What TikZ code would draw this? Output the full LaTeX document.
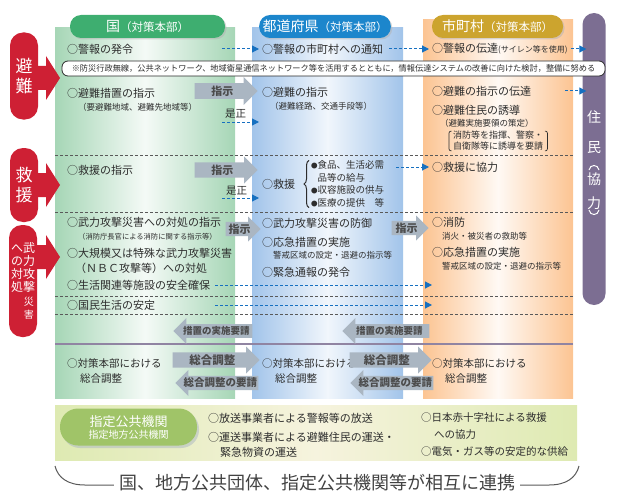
\documentclass[tikz,border=0pt]{standalone}
\usepackage{fontspec}
\setmainfont{Noto Sans CJK JP}
\usepackage{tikz}
\usetikzlibrary{shapes, arrows, arrows.meta, positioning, shapes.arrows, shadows, decorations.pathreplacing, calc}

\definecolor{kuniG}{RGB}{166,214,182}
\definecolor{kenB}{RGB}{162,196,234}
\definecolor{shiO}{RGB}{252,196,146}
\definecolor{kuniH}{RGB}{62,174,112}
\definecolor{kenH}{RGB}{28,134,204}
\definecolor{shiH}{RGB}{204,164,46}
\definecolor{akaL}{RGB}{206,32,52}
\definecolor{jumin}{RGB}{124,110,146}
\definecolor{yaG}{RGB}{170,182,194}
\definecolor{tenB}{RGB}{22,112,192}
\definecolor{mojiC}{RGB}{45,45,45}
\definecolor{kikanH}{RGB}{160,196,104}
\definecolor{kikanB}{RGB}{222,234,178}
\definecolor{kikanM}{RGB}{246,243,222}

\begin{document}
\begin{tikzpicture}[x=1pt, y=-1pt]
            \tikzstyle{bun} = [anchor=west, inner sep=0pt, text=mojiC, font=\fontsize{11}{13}\selectfont]
            \tikzstyle{kobun} = [bun, font=\fontsize{8.5}{10.5}\selectfont]
            \tikzstyle{chousei} = [bun, font=\fontsize{10.5}{12}\selectfont]
            \tikzstyle{midashi} = [rounded corners=11pt, minimum height=23pt, text=white, drop shadow={shadow xshift=1.5pt, shadow yshift=-1.5pt, fill=black!30}]
            \tikzstyle{akafuda} = [rounded corners=13pt, fill=akaL, text=white, minimum width=28pt, inner sep=0pt, font=\fontsize{17}{20}\selectfont, align=center]
            \tikzstyle{juminMoji} = [inner sep=0pt, text=white, font=\fontsize{14}{14}\selectfont]
            \tikzstyle{hairo} = [single arrow, fill=yaG, single arrow head extend=5pt, inner sep=1pt, anchor=tip, text=mojiC!85, font=\bfseries\fontsize{11}{11}\selectfont]
            \tikzstyle{hidarimuki} = [hairo, shape border rotate=180]
            \tikzstyle{tensen} = [draw=tenB, dash pattern=on 3pt off 2pt, line width=1pt, -{Triangle[length=7pt, width=7pt]}]
            \tikzstyle{kugiri} = [draw=black!65, dash pattern=on 3pt off 2pt, line width=0.6pt]
            \tikzstyle{waku} = [draw=black!65, line width=1pt]

            \useasboundingbox (0,0) rectangle (620,500);

            \shade[left color=kuniG, right color=kuniG, middle color=kuniG!12] (55,28) rectangle (235,398);
            \shade[left color=kenB, right color=kenB, middle color=kenB!15] (252,28) rectangle (403,398);
            \shade[left color=shiO, right color=shiO, middle color=shiO!10] (423,20) rectangle (573,398);
            \shade[left color=kikanB, right color=kikanB, middle color=kikanM] (55,405) rectangle (577,460);

            \foreach \yy in {155,212,296,314}
                \draw[kugiri] (55,\yy) -- (573,\yy);
            \draw[line width=1.2pt, jumin!85] (55,344) -- (573,344);

            \foreach \yy in {78,185,257}
                \fill[akaL] (34,\yy-12) -- (46,\yy-12) -- (46,\yy-22) -- (60,\yy) -- (46,\yy+22) -- (46,\yy+12) -- (34,\yy+12) -- cycle;

            \node[akafuda, minimum height=87pt] (hinan) at (24,76) {避\\難};
            \node[akafuda, minimum height=74pt] (kyuen) at (24,185) {救\\援};
            \node[akafuda, minimum height=112pt, font=\fontsize{12}{13}\selectfont] (buryoku) at (23,281) {\parbox[t]{12pt}{\centering へ\\の\\対\\処}\parbox[t]{12pt}{\centering 武\\力\\攻\\撃\\[2pt]{\fontsize{10}{12}\selectfont 災\\害}}};

            \node[rounded corners=11.5pt, fill=jumin, minimum width=23pt, minimum height=292pt, inner sep=0pt] (jumin) at (594,159) {};
            \node[juminMoji] (jumin1) at (594,117) {住};
            \node[juminMoji] (jumin2) at (594,148) {民};
            \node[juminMoji] (jumin3) at (594,179) {協};
            \node[juminMoji] (jumin4) at (594,203) {力};
            \draw[white, line width=1pt] (589,170) .. controls (590,164) and (598,164) .. (599,170);
            \draw[white, line width=1pt] (589,210) .. controls (590,216) and (598,216) .. (599,210);

            \node[midashi, fill=kuniH, minimum width=155pt] (kuniHead) at (147.5,26.5) {{\fontsize{14}{14}\selectfont 国}{\fontsize{11.5}{12}\selectfont （対策本部）}};
            \node[midashi, fill=kenH, minimum width=130pt] (kenHead) at (325,26.5) {{\fontsize{14}{14}\selectfont 都道府県}{\fontsize{11.5}{12}\selectfont （対策本部）}};
            \node[midashi, fill=shiH, minimum width=131pt] (shiHead) at (497.5,26.5) {{\fontsize{14}{14}\selectfont 市町村}{\fontsize{11.5}{12}\selectfont （対策本部）}};

            \node[draw=mojiC, fill=white, rounded corners=6pt, line width=0.8pt, minimum width=543pt, minimum height=15pt, inner sep=0pt, text=mojiC, font=\fontsize{8.2}{9}\selectfont] (chuui) at (333.5,68.5) {※防災行政無線，公共ネットワーク、地域衛星通信ネットワーク等を活用するとともに，情報伝達システムの改善に向けた検討，整備に努める};

            \node[bun] (kuniKeiho) at (67,49) {○警報の発令};
            \node[bun] (kuniHinan) at (67,93) {○避難措置の指示};
            \node[kobun] (kuniHinanS) at (78,107) {（要避難地域、避難先地域等）};
            \node[bun] (kuniKyuen) at (67,170) {○救援の指示};
            \node[bun] (kuniTaisho) at (67,222) {○武力攻撃災害への対処の指示};
            \node[kobun, font=\fontsize{7.3}{9}\selectfont] (kuniTaishoS) at (78,237) {（消防庁長官による消防に関する指示等）};
            \node[bun] (kuniDaikibo) at (67,253) {○大規模又は特殊な武力攻撃災害};
            \node[bun] (kuniDaikiboS) at (75,268) {（ＮＢＣ攻撃等）への対処};
            \node[bun] (kuniSeikatsu) at (67,285) {○生活関連等施設の安全確保};
            \node[bun] (kuniAntei) at (67,305) {○国民生活の安定};
            \node[chousei] (kuniChousei) at (67,363) {○対策本部における};
            \node[chousei] (kuniChousei2) at (80,379) {総合調整};

            \node[bun] (kenKeiho) at (262,49) {○警報の市町村への通知};
            \node[bun] (kenHinan) at (262,92) {○避難の指示};
            \node[kobun] (kenHinanS) at (270,106) {（避難経路、交通手段等）};
            \node[bun] (kenKyuen) at (262,184) {○救援};
            \node[bun, font=\fontsize{9.5}{12.7}\selectfont, align=left] (kenKyuenK) at (311,184) {{\fontsize{6.5}{6}\selectfont ●}食品、生活必需\\\hspace{6.5pt}品等の給与\\{\fontsize{6.5}{6}\selectfont ●}収容施設の供与\\{\fontsize{6.5}{6}\selectfont ●}医療の提供\hspace{1em}等};
            \node[bun] (kenBougyo) at (262,223) {○武力攻撃災害の防御};
            \node[bun] (kenOukyu) at (262,242) {○応急措置の実施};
            \node[kobun] (kenOukyuS) at (273,255) {警戒区域の設定・退避の指示等};
            \node[bun] (kenTsuuhou) at (262,272) {○緊急通報の発令};
            \node[chousei] (kenChousei) at (262,363) {○対策本部における};
            \node[chousei] (kenChousei2) at (275,379) {総合調整};

            \node[bun] (shiKeiho) at (432,49) {○警報の伝達{\fontsize{8}{9}\selectfont (サイレン等を使用)}};
            \node[bun] (shiHinan) at (432,91) {○避難の指示の伝達};
            \node[bun] (shiYuudou) at (432,110) {○避難住民の誘導};
            \node[kobun] (shiYuudouS) at (440,123) {（避難実施要領の策定）};
            \node[kobun, font=\fontsize{9}{11}\selectfont, align=left] (shiYuudouK) at (453,141) {消防等を指揮、警察・\\自衛隊等に誘導を要請};
            \node[bun] (shiKyuen) at (432,167) {○救援に協力};
            \node[bun] (shiShoubou) at (432,222) {○消防};
            \node[kobun] (shiShoubouS) at (442,236) {消火・被災者の救助等};
            \node[bun] (shiOukyu) at (432,252) {○応急措置の実施};
            \node[kobun] (shiOukyuS) at (442,266) {警戒区域の設定・退避の指示等};
            \node[chousei] (shiChousei) at (432,363) {○対策本部における};
            \node[chousei] (shiChousei2) at (445,379) {総合調整};

            \draw[decorate, decoration={brace, amplitude=5pt}, line width=1pt, mojiC] ([xshift=-2pt]kenKyuenK.south west) -- ([xshift=-2pt]kenKyuenK.north west);
            \draw[mojiC, line width=0.7pt, rounded corners=2pt] ([xshift=-1.5pt]shiYuudouK.north west) -- ([xshift=-4pt]shiYuudouK.north west) -- ([xshift=-4pt]shiYuudouK.south west) -- ([xshift=-1.5pt]shiYuudouK.south west);
            \draw[mojiC, line width=0.7pt, rounded corners=2pt] ([xshift=1.5pt]shiYuudouK.north east) -- ([xshift=4pt]shiYuudouK.north east) -- ([xshift=4pt]shiYuudouK.south east) -- ([xshift=1.5pt]shiYuudouK.south east);

            \node[hairo, minimum height=63pt, minimum width=28pt] (shiji1) at (258,91) {指示};
            \node[hairo, minimum height=63pt, minimum width=27pt] (shiji2) at (258,170) {指示};
            \node[hairo, minimum height=35pt, minimum width=25pt] (shiji3) at (261,229) {指示};
            \node[hairo, minimum height=37pt, minimum width=25pt] (shiji4) at (429,228) {指示};
            \node[hidarimuki, minimum height=79pt, minimum width=26pt, font=\bfseries\fontsize{9.5}{10}\selectfont] (youseiA) at (173,331) {措置の実施要請};
            \node[hidarimuki, minimum height=87pt, minimum width=26pt, font=\bfseries\fontsize{9.5}{10}\selectfont] (youseiB) at (342,331) {措置の実施要請};
            \node[hairo, minimum height=87pt, minimum width=27pt, font=\bfseries\fontsize{11.5}{12}\selectfont] (chouseiA) at (260,360) {総合調整};
            \node[hidarimuki, minimum height=83pt, minimum width=26pt, font=\bfseries\fontsize{10.5}{11}\selectfont] (chouseiYA) at (175,383) {総合調整の要請};
            \node[hairo, minimum height=82pt, minimum width=27pt, font=\bfseries\fontsize{11.5}{12}\selectfont] (chouseiB) at (432,360) {総合調整};
            \node[hidarimuki, minimum height=80pt, minimum width=26pt, font=\bfseries\fontsize{10.5}{11}\selectfont] (chouseiYB) at (350,383) {総合調整の要請};

            \node[chousei] (zesei1) at (225,114) {是正};
            \node[chousei] (zesei2) at (226,191) {是正};

            \coordinate (kuniK1) at (222,49);
            \coordinate (shiH1) at (565,91);
            \coordinate (zeseiS1) at (222,122);
            \coordinate (zeseiE1) at (259,122);
            \coordinate (zeseiS2) at (222,198);
            \coordinate (zeseiE2) at (259,198);
            \coordinate (kenK1) at (396,167);
            \coordinate (seikatsuS) at (215,285);
            \coordinate (seikatsuE) at (432,285);
            \coordinate (anteiS) at (215,305);
            \coordinate (anteiE) at (432,305);

            \draw[tensen, shorten >=3pt] (kuniK1) -- (kenKeiho);
            \draw[tensen, shorten >=3pt] ([xshift=6pt]kenKeiho.east) -- (shiKeiho);
            \draw[tensen, shorten >=-4pt] ([xshift=3pt]shiKeiho.east) -- (jumin.west |- shiKeiho.west);
            \draw[tensen, shorten >=-4pt] (shiH1) -- (jumin.west |- shiHinan.west);
            \draw[tensen] (zeseiS1) -- (zeseiE1);
            \draw[tensen] (zeseiS2) -- (zeseiE2);
            \draw[tensen, shorten >=3pt] (kenK1) -- (shiKyuen);
            \draw[tensen] (seikatsuS) -- (seikatsuE);
            \draw[tensen] (anteiS) -- (anteiE);

            \node[rounded corners=18pt, fill=kikanH, minimum width=137pt, minimum height=37pt, text=white, align=center, inner sep=0pt, drop shadow={shadow xshift=2pt, shadow yshift=-2.5pt, fill=yaG}] (kikan) at (128.5,427) {{\fontsize{13}{15}\selectfont 指定公共機関}\\{\fontsize{10}{12}\selectfont 指定地方公共機関}};
            \node[bun] (housou) at (208,418) {○放送事業者による警報等の放送};
            \node[bun] (unsou) at (208,437) {○運送事業者による避難住民の運送・};
            \node[bun] (unsou2) at (220,452) {緊急物資の運送};
            \node[bun, font=\fontsize{10.5}{12}\selectfont] (sekijuji) at (421,418) {○日本赤十字社による救援};
            \node[bun, font=\fontsize{10.5}{12}\selectfont] (sekijuji2) at (434,435) {への協力};
            \node[bun, font=\fontsize{10.5}{12}\selectfont] (denki) at (421,452) {○電気・ガス等の安定的な供給};

            \node[inner sep=0pt, text=mojiC!90, font=\fontsize{18}{20}\selectfont] (kizuna) at (317,483) {国、地方公共団体、指定公共機関等が相互に連携};
            \coordinate (hidariKado) at (85,485);
            \coordinate (migiKado) at (549,485);
            \draw[waku] (55,466) .. controls (58,478) and (68,485) .. (hidariKado) -- ($(kizuna.west |- hidariKado)+(-5,0)$);
            \draw[waku] ($(kizuna.east |- migiKado)+(5,0)$) -- (migiKado) .. controls (566,485) and (576,478) .. (579,466);
        \end{tikzpicture}
\end{document}
